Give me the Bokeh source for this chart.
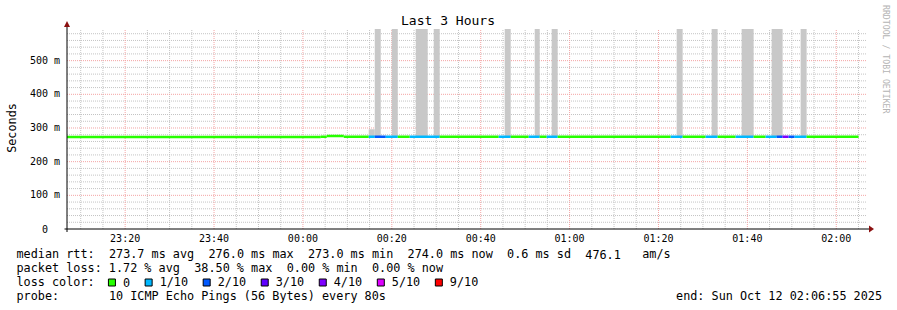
import re
import numpy as np
from bokeh.plotting import figure
from bokeh.models import Range1d, ColumnDataSource
from bokeh.core.properties import value
from bokeh.embed import file_html
from bokeh.resources import INLINE

# ---------------- data ----------------
# time axis: minutes after 23:00 (Sat Oct 11 2025)
time_start = 6.9167      # 23:06:55
time_end = 186.9167      # 02:06:55
y_upper = 0.594          # seconds, top of graph

# median rtt line, piecewise by loss level
seg_start = [6.92, 64.02, 65.37, 69.19, 74.81, 76.16, 78.64, 81.34, 84.04, 90.78,
             104.05, 106.75, 110.80, 113.28, 114.85, 117.32, 142.74, 145.44, 150.61,
             153.31, 157.36, 161.41, 164.11, 166.58, 167.93, 169.28, 170.63, 173.33]
seg_end = [64.02, 65.37, 69.19, 74.81, 76.16, 78.64, 81.34, 84.04, 90.78, 104.05,
           106.75, 110.80, 113.28, 114.85, 117.32, 142.74, 145.44, 150.61, 153.31,
           157.36, 161.41, 164.11, 166.58, 167.93, 169.28, 170.63, 173.33, 185.02]
seg_loss = [0, 0, 0, 0, 1, 2, 1, 0, 1, 0,
            1, 0, 1, 0, 1, 0, 1, 0, 1,
            0, 1, 0, 1, 2, 4, 2, 1, 0]
seg_median_ms = [273.0, 274.0, 276.0, 274.0, 274.0, 274.0, 274.0, 274.0, 274.0, 274.0,
                 274.0, 274.0, 274.0, 274.0, 274.0, 274.0, 274.0, 274.0, 274.0,
                 274.0, 274.0, 274.0, 274.0, 274.0, 274.0, 274.0, 274.0, 274.0]

# smoke (ping spread) bars
smoke_left = [74.81, 76.16, 79.99, 85.38, 89.43, 105.40, 112.15, 115.97, 144.09,
              151.96, 158.71, 165.46, 171.98]
smoke_right = [76.16, 77.51, 81.34, 88.08, 90.78, 106.75, 113.28, 117.32, 145.44,
               153.31, 161.41, 167.93, 173.33]
smoke_low_ms = [273.0, 273.0, 273.0, 273.0, 273.0, 273.0, 273.0, 273.0, 273.0,
                273.0, 273.0, 273.0, 273.0]
smoke_high_ms = [296.0, 594.0, 594.0, 594.0, 594.0, 594.0, 594.0, 594.0, 594.0,
                 594.0, 594.0, 594.0, 594.0]

x_tick_minutes = [20, 40, 60, 80, 100, 120, 140, 160, 180]
x_tick_labels = ["23:20", "23:40", "00:00", "00:20", "00:40", "01:00", "01:20", "01:40", "02:00"]
y_tick_values = [0.0, 0.1, 0.2, 0.3, 0.4, 0.5]
y_tick_labels = ["0", "100 m", "200 m", "300 m", "400 m", "500 m"]

loss_keys = [0, 1, 2, 3, 4, 5, 9]
loss_labels = ["0", "1/10", "2/10", "3/10", "4/10", "5/10", "9/10"]
loss_colors = ["#26ff00", "#00b8ff", "#0059ff", "#5e00ff", "#7e00ff", "#dd00ff", "#ff0000"]

title_text = "Last 3 Hours"
y_label_text = "Seconds"
watermark_text = "RRDTOOL / TOBI OETIKER"
legend_rtt = "median rtt:  273.7 ms avg  276.0 ms max  273.0 ms min  274.0 ms now  0.6 ms sd  476.1   am/s"
legend_loss = "packet loss: 1.72 % avg  38.50 % max  0.00 % min  0.00 % now"
legend_color_title = "loss color:"
legend_probe = "probe:       10 ICMP Echo Pings (56 Bytes) every 80s"
legend_end = "end: Sun Oct 12 02:06:55 2025"

# ---------------- layout ----------------
W, H = 897, 310
PL, PR = 66.5, 866.5      # plot area, x pixels
PB, PT = 228.5, 28.5      # plot area, y pixels
ppm = (PR - PL) / (time_end - time_start)
pps = (PB - PT) / y_upper

MONO = value("DejaVu Sans Mono")
CW = 7.11                 # legend char advance
LEG_FS = value("11.8px")
TICK_FS = value("10px")
TICK_CW = 6.02

p = figure(width=W, height=H, title=None,
           x_range=Range1d(time_start - PL / ppm, time_start + (W - PL) / ppm),
           y_range=Range1d(-(H - PB) / pps, PB / pps),
           x_axis_type=None, y_axis_type=None,
           output_backend="svg", toolbar_location=None, min_border=0)
p.outline_line_color = None
p.background_fill_color = "white"
p.border_fill_color = "white"
p.extra_x_ranges = {"px": Range1d(0, W)}
p.extra_y_ranges = {"px": Range1d(H, 0)}
PX = dict(x_range_name="px", y_range_name="px")

# ---------------- grid ----------------
minor_x = [m for m in range(5, 190, 5) if time_start <= m <= time_end and m % 20 != 0]
major_x = [m for m in x_tick_minutes]
minor_y = [k * 0.02 for k in range(1, 40) if k * 0.02 <= y_upper and k % 5 != 0]
major_y = [v for v in y_tick_values if v > 0]

GRID_MINOR = "#c4c4c4"
GRID_MAJOR = "#f4a4a4"
p.segment(x0=minor_x, x1=minor_x, y0=[0] * len(minor_x), y1=[y_upper] * len(minor_x),
          line_color=GRID_MINOR, line_width=1, line_dash="1 1")
p.segment(x0=[time_start] * len(minor_y), x1=[time_end] * len(minor_y), y0=minor_y, y1=minor_y,
          line_color=GRID_MINOR, line_width=1, line_dash="1 1")
p.segment(x0=major_x, x1=major_x, y0=[0] * len(major_x), y1=[y_upper] * len(major_x),
          line_color=GRID_MAJOR, line_width=1, line_dash="1 1")
p.segment(x0=[time_start] * len(major_y), x1=[time_end] * len(major_y), y0=major_y, y1=major_y,
          line_color=GRID_MAJOR, line_width=1, line_dash="1 1")

# ---------------- smoke ----------------
p.quad(left=smoke_left, right=smoke_right,
       bottom=[v / 1000 for v in smoke_low_ms], top=[v / 1000 for v in smoke_high_ms],
       fill_color="#c8c8c8", line_color=None)

# ---------------- median line coloured by loss ----------------
color_of = dict(zip(loss_keys, loss_colors))
med_src = ColumnDataSource(dict(
    x0=seg_start, x1=seg_end,
    y=[v / 1000 for v in seg_median_ms],
    color=[color_of[l] for l in seg_loss],
))
p.segment(x0="x0", x1="x1", y0="y", y1="y", source=med_src,
          line_color="color", line_width=2.5, line_cap="butt")

# ---------------- axes ----------------
p.segment(x0=[PL - 2.5, PL], x1=[PR + 3, PL], y0=[PB, PB + 3], y1=[PB, PT - 3],
          line_color="black", line_width=1, **PX)
p.patches(xs=[[PL - 3, PL + 3, PL], [PR + 2, PR + 2, PR + 7]],
          ys=[[PT - 2, PT - 2, PT - 8], [PB - 3.5, PB + 3.5, PB]],
          fill_color="#8b1010", line_color=None, **PX)

# tick labels
p.text(x=x_tick_minutes, y=[237.6] * len(x_tick_minutes), text=x_tick_labels,
       text_font=MONO, text_font_size=TICK_FS, text_color="black",
       text_align="center", text_baseline="middle", y_range_name="px")
ylab_x = [59.5 - (0 if " " in s else 2 * TICK_CW) for s in y_tick_labels]
p.text(x=ylab_x, y=y_tick_values, text=y_tick_labels, y_offset=-0.5,
       text_font=MONO, text_font_size=TICK_FS, text_color="black",
       text_align="right", text_baseline="middle", x_range_name="px")

# title, axis label, watermark
p.text(x=[447.5], y=[19.8], text=[title_text], text_font=MONO, text_font_size=value("13px"),
       text_color="black", text_align="center", text_baseline="middle", **PX)
p.text(x=[11.2], y=[127.5], text=[y_label_text], angle=np.pi / 2, text_font=MONO,
       text_font_size=LEG_FS, text_color="black", text_align="center",
       text_baseline="middle", **PX)
p.text(x=[885.0], y=[4.5], text=[watermark_text], angle=-np.pi / 2, text_font=MONO,
       text_font_size=value("8.2px"), text_color="#b4b4b4", text_align="left",
       text_baseline="middle", **PX)

# ---------------- legend ----------------
LX = 16
leg_x, leg_y, leg_t = [], [], []
for line, mid in [(legend_rtt, 253.6), (legend_loss, 267.6), (legend_probe, 295.6)]:
    for mt in re.finditer(r"\S+(?: \S+)*", line):
        leg_x.append(LX + mt.start() * CW)
        leg_y.append(mid)
        leg_t.append(mt.group())
leg_x.append(LX)
leg_y.append(281.6)
leg_t.append(legend_color_title)

box_left, lab_x = [], []
bx = LX + 13 * CW - 0.5
for lab in loss_labels:
    box_left.append(bx)
    lab_x.append(bx + 14.5)
    bx = bx + 14.5 + len(lab) * CW + 15.1
p.quad(left=box_left, right=[b + 7 for b in box_left],
       top=[278.5] * len(box_left), bottom=[285.5] * len(box_left),
       fill_color=loss_colors, line_color="black", line_width=1, **PX)
leg_x += lab_x
leg_y += [281.6] * len(lab_x)
leg_t += loss_labels

p.text(x=leg_x, y=leg_y, text=leg_t, text_font=MONO, text_font_size=LEG_FS,
       text_color="black", text_align="left", text_baseline="middle", **PX)
p.text(x=[881.5], y=[295.6], text=[legend_end], text_font=MONO, text_font_size=LEG_FS,
       text_color="black", text_align="right", text_baseline="middle", **PX)

open("out.html", "w").write(file_html(p, INLINE))
